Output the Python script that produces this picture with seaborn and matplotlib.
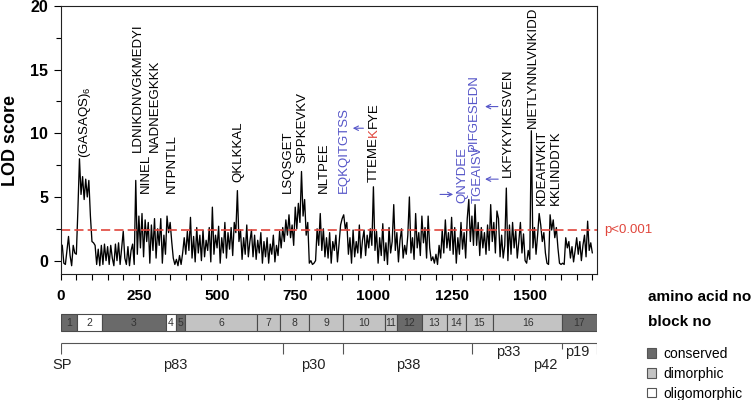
import numpy as np
import matplotlib
matplotlib.use("Agg")
import matplotlib.pyplot as plt
import seaborn as sns
from matplotlib.patches import Patch
from matplotlib.ticker import MultipleLocator

sns.set_theme(style="ticks")
plt.rcParams['font.family'] = ['Liberation Sans', 'DejaVu Sans']
plt.rcParams['mathtext.fontset'] = 'custom'
plt.rcParams['mathtext.rm'] = 'Liberation Sans'
for k in ['text.color', 'axes.labelcolor', 'xtick.color', 'ytick.color', 'axes.edgecolor']:
    plt.rcParams[k] = 'black'

# ---------------- data ----------------
# LOD score, one value every 5 amino acids (0 .. 1700)
lod_score = [
    1.3, 1.2, -0.2, -0.3, 0.8, 1.9, 0.4, -0.4, 1.2, 0.6,
    0.5, 4.0, 8.0, 5.2, 6.6, 4.8, 6.4, 5.0, 6.3, 3.5,
    1.5, 1.4, 1.2, -0.3, 0.9, -0.4, 1.2, -0.3, 1.3, 0.0,
    1.1, -0.3, 1.2, 0.2, -0.4, 1.3, 0.0, 1.4, -0.3, 1.0,
    2.3, 0.2, -0.3, 1.1, -0.4, 0.8, 1.3, -0.3, 6.3, 0.5,
    3.5, 1.0, 3.7, 0.3, 3.2, 1.5, 3.0, -0.2, 2.8, 0.8,
    3.3, 0.2, 2.5, 1.2, 3.3, -0.2, 2.0, 0.5, 3.5, 2.2,
    3.0, 1.5, 0.2, -0.3, 0.1, -0.4, 0.4, -0.3, 0.6, 1.8,
    0.5, 2.3, 0.8, 3.4, 0.2, 1.9, -0.1, 2.6, 0.6, 2.0, 0.0,
    2.4, 0.3, 1.6, 0.8, 2.6, -0.1, 4.2, 0.5, 2.0, 1.0,
    2.7, -0.2, 1.8, 0.6, 3.0, 0.2, 2.2, 0.9, 2.6, 0.4,
    3.0, 2.2, 5.5, 1.5, 2.4, 0.1, 1.8, 0.5, 2.8, 0.3,
    1.5, 2.4, 0.3, 2.0, 0.1, 1.6, 0.6, 2.2, -0.2, 1.5,
    0.3, 1.8, -0.2, 1.3, 0.5, 2.0, -0.1, 1.2, 0.4, 2.3,
    1.0, 2.6, 1.5, 3.2, 2.0, 3.6, 1.8, 2.8, 1.2, 4.2,
    2.5, 4.5, 3.0, 7.0, 3.5, 4.8, 2.0, 3.0, -0.2, 0.0,
    -0.3, -0.2, 0.0, 2.5, 1.2, 3.7, 0.8, 2.5, 0.3, 1.8,
    0.2, 2.2, -0.2, 1.5, 0.8, 2.0, -0.1, 1.3, 2.8, 3.3,
    3.6, 2.5, 3.0, 0.5, 1.8, -0.2, 2.4, 0.3, 1.5, 0.6,
    2.8, 0.2, 1.6, 2.4, 0.4, 2.0, 1.0, 2.5, 1.2, 5.8,
    0.8, 2.3, -0.2, 1.8, 0.4, 2.9, 0.0, 1.4, -0.3, 2.6,
    0.6, 1.5, 4.4, 0.8, 2.2, -0.1, 1.6, 2.5, 0.2, 1.2,
    0.5, 2.0, 5.0, 0.6, 1.8, 0.1, 3.7, 1.0, 2.2, 0.4,
    3.5, 1.4, 2.6, 0.2, 3.5, 1.0, 0.0, 0.3, -0.2, 0.5,
    -0.3, 1.2, 0.2, 2.4, 0.6, 3.2, 1.0, 2.2, 0.8, 3.4,
    0.5, 2.6, -0.2, 1.8, 0.5, 3.0, 0.9, 2.2, 0.2, 3.3,
    4.8, 1.5, 3.5, 1.2, 4.4, 1.2, 3.0, 0.4, 2.6, 1.0,
    2.2, 0.5, 2.8, 0.8, 4.4, 1.5, 3.0, 0.6, 3.9, 3.3,
    0.3, 2.0, 0.2, 1.2, 5.7, 0.0, 2.8, 0.5, 3.0, 1.0,
    2.4, 0.2, 1.5, 3.0, 0.6, 2.1, 0.0, -0.2, 0.8, 0.1,
    10.2, 1.0, 2.6, 0.5, 2.0, 3.7, 2.8, 1.5, 2.2, 0.6,
    -0.2, -0.3, 3.6, 2.4, 3.2, 1.8, 2.6, 1.0, -0.2, -0.3,
    -0.2, -0.3, 1.8, 1.0, 1.5, 0.2, 1.1, -0.1, 0.8, 1.8,
    0.5, 1.5, 0.0, 1.2, 2.0, 0.3, 3.1, 0.8, 1.4, 0.6,
]
residue = np.arange(len(lod_score)) * 5
threshold = 2.4

peptide_text = [r"(GASAQS)$_\mathregular{6}$", "LDNIKDNVGKMEDYI", "NINEL", "NADNEEGKKK",
                "NTPNTLL", "QKLKKAL", "LSQSGET", "SPPKEVKV", "NLTPEE", "EQKQITGTSS",
                "QNYDEE", "TGEAISV", "PIFGESEDN", "LKFYKYIKESVEN", "NIETLYNNLVNKIDD",
                "KDEAHVKIT", "KKLINDDTK"]
peptide_pos = [78, 248, 272, 302, 355, 568, 728, 774, 840, 907,
               1286, 1335, 1320, 1431, 1511, 1538, 1584]
peptide_lod = [8.1, 8.5, 5.3, 8.5, 5.3, 6.2, 5.3, 7.7, 5.3, 5.3,
               4.5, 4.5, 8.6, 6.6, 10.4, 4.4, 4.4]
peptide_blue = [False, False, False, False, False, False, False, False, False, True,
                True, True, True, False, False, False, False]

mixed_pos, mixed_lod = 1000, 6.2
mixed_parts = ["TTEME", "K", "FYE"]
mixed_red = [False, True, False]

arrow_tail = [(968, 10.4), (1213, 5.2), (1399, 6.4), (1398, 12.1)]
arrow_head = [(934, 10.4), (1255, 5.2), (1357, 6.4), (1357, 12.1)]

block_no = list(range(1, 18))
block_start = [0, 53, 131, 336, 368, 398, 627, 701, 795, 904, 1037, 1075, 1154, 1236, 1295, 1383, 1604]
block_end = [53, 131, 336, 368, 398, 627, 701, 795, 904, 1037, 1075, 1154, 1236, 1295, 1383, 1604, 1714]
block_type = ['conserved', 'oligomorphic', 'conserved', 'oligomorphic', 'conserved',
              'dimorphic', 'dimorphic', 'dimorphic', 'dimorphic', 'dimorphic', 'dimorphic',
              'conserved', 'dimorphic', 'dimorphic', 'dimorphic', 'dimorphic', 'conserved']

fragment_names = ['SP', 'p83', 'p30', 'p38', 'p33', 'p42', 'p19']
fragment_pos = [6, 366, 807, 1111, 1430, 1549, 1651]
fragment_upper = [False, False, False, False, True, False, True]
fragment_bounds = [0, 712, 904, 1316, 1604, 1714]
fragment_short = [False, False, False, False, True, False]

x_ticks = [0, 250, 500, 750, 1000, 1250, 1500]
y_ticks = [0, 5, 10, 15, 20]

# ---------------- style ----------------
BLUE = '#5656c8'
RED = '#e0463c'
type_color = {'conserved': '#6a6a6a', 'dimorphic': '#c3c3c3', 'oligomorphic': '#ffffff'}
W, H = 756, 400
L, R = 60.7, 596.7
XMAX = 1714

fig = plt.figure(figsize=(W / 100, H / 100), dpi=100)
ax = fig.add_axes([L / W, 1 - 274 / H, (R - L) / W, 268 / H])

sns.lineplot(x=residue, y=lod_score, color='black', lw=0.95, ax=ax)
ax.axhline(threshold, color=RED, lw=1.2, dashes=(5.5, 2.5))
ax.text(1738, threshold, 'p<0.001', color=RED, fontsize=9.5, va='center', ha='left', clip_on=False)

ax.set_xlim(0, XMAX)
ax.set_ylim(-1.05, 20)
ax.set_xticks(x_ticks)
ax.set_xticklabels([str(t) for t in x_ticks], fontweight='bold', fontsize=11)
ax.xaxis.set_minor_locator(MultipleLocator(50))
ax.set_yticks(y_ticks)
ax.set_yticklabels([str(t) for t in y_ticks], fontweight='bold', fontsize=11.5)
ax.yaxis.set_minor_locator(MultipleLocator(2.5))
ax.tick_params(axis='x', which='major', length=4.5, width=0.8, pad=6.5, direction='out')
ax.tick_params(axis='x', which='minor', length=4.0, width=0.8, direction='out')
ax.tick_params(axis='y', which='major', length=5, width=0.8, pad=4, direction='out')
ax.tick_params(axis='y', which='minor', length=3.5, width=0.8, direction='out')
for s in ax.spines.values():
    s.set_visible(True)
    s.set_linewidth(0.8)
    s.set_color('#222222')
ax.set_ylabel('LOD score', fontsize=13, fontweight='bold', labelpad=8)
ax.set_xlabel('')

for txt, xp, yp, b in zip(peptide_text, peptide_pos, peptide_lod, peptide_blue):
    ax.text(xp, yp, txt, rotation=90, ha='center', va='bottom', fontsize=9.5,
            color=BLUE if b else 'black')

fig.canvas.draw()
renderer = fig.canvas.get_renderer()
off = 0.0
for part, red in zip(mixed_parts, mixed_red):
    t = ax.annotate(part, xy=(mixed_pos, mixed_lod), xytext=(0, off), textcoords='offset pixels',
                    rotation=90, ha='center', va='bottom', fontsize=9.5,
                    color=RED if red else 'black')
    off += t.get_window_extent(renderer).height

for (tx, ty), (hx, hy) in zip(arrow_tail, arrow_head):
    ax.annotate('', xy=(hx, hy), xytext=(tx, ty),
                arrowprops=dict(arrowstyle='->', color=BLUE, lw=0.8, shrinkA=0, shrinkB=0,
                                mutation_scale=8))

# ---------------- lower panel ----------------
axb = fig.add_axes([L / W, 0, (R - L) / W, 122 / H])
axb.set_xlim(0, XMAX)
axb.set_ylim(400, 278)
axb.axis('off')
widths = np.array(block_end) - np.array(block_start)
axb.barh(y=322.5, width=widths, left=block_start, height=17,
         color=[type_color[t] for t in block_type], edgecolor='#4a4a4a', linewidth=0.8)
for n, s, e in zip(block_no, block_start, block_end):
    axb.text((s + e) / 2, 323, str(n), ha='center', va='center', fontsize=7.5, color='#333333')

axb.hlines(343, 0, XMAX, color='#555555', lw=0.8)
for b, short in zip(fragment_bounds, fragment_short):
    axb.vlines(b, 343, 349 if short else 353.5, color='#555555', lw=0.8)
for name, xp, up in zip(fragment_names, fragment_pos, fragment_upper):
    axb.text(xp, 352 if up else 365, name, ha='center', va='center', fontsize=10.5, color='#222222')

fig.text(648 / W, 1 - 297 / H, 'amino acid no', fontweight='bold', fontsize=11, va='center', ha='left')
fig.text(648 / W, 1 - 322 / H, 'block no', fontweight='bold', fontsize=11, va='center', ha='left')

handles = [Patch(facecolor=type_color[t], edgecolor='#555555', linewidth=0.8)
           for t in ['conserved', 'dimorphic', 'oligomorphic']]
fig.legend(handles, ['conserved', 'dimorphic', 'oligomorphic'], loc='upper left',
           bbox_to_anchor=(647 / W, 1 - 347 / H), frameon=False, fontsize=10,
           handlelength=0.65, handleheight=0.65, handletextpad=0.55, labelspacing=0.42,
           borderpad=0, borderaxespad=0)

fig.savefig('out.png', dpi=100)
